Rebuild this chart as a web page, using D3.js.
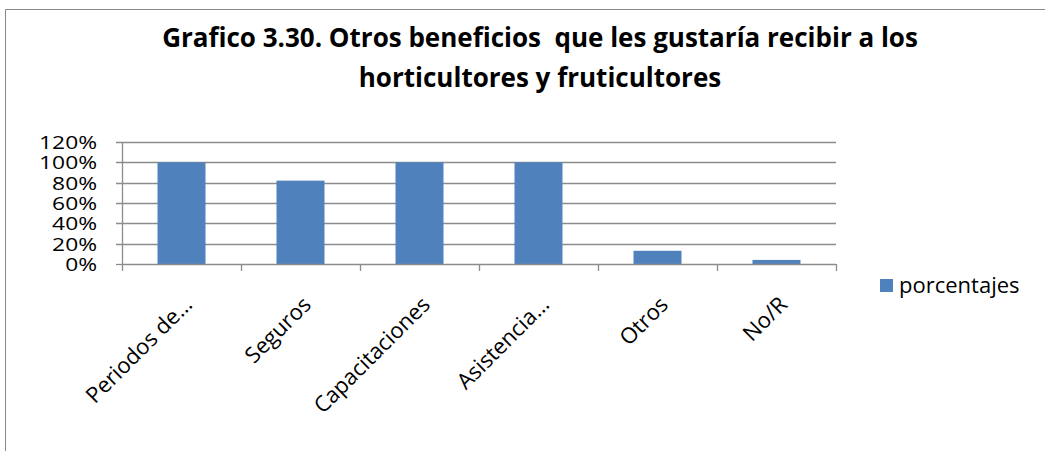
<!DOCTYPE html>
<meta charset="utf-8">
<head>
  <script src="https://cdn.jsdelivr.net/npm/d3@7"></script>
  <style>
    body { margin: 0; background: #fff; }
    text { font-family: "Open Sans", "DejaVu Sans", sans-serif; fill: #000; }
  </style>
</head>
<body>
<script type="text/javascript">

var categorias = ["Periodos de\u2026", "Seguros", "Capacitaciones", "Asistencia\u2026", "Otros", "No/R"];
var porcentajes = [1.00, 0.82, 1.00, 1.00, 0.13, 0.04];
var ticks = [0, 0.2, 0.4, 0.6, 0.8, 1.0, 1.2];
var serie = "porcentajes";
var titulo = ["Grafico 3.30. Otros beneficios  que les gustar\u00eda recibir a los",
              "horticultores y fruticultores"];

var w = 1045;
var h = 451;
var margIzq = 122, margDer = 836, margSup = 142, margInf = 264;

var svg = d3.select("body").append("svg")
    .attr("width", w)
    .attr("height", h);

// marco del grafico
svg.append("path")
    .attr("d", "M5.5," + h + " V9.5 H" + w)
    .attr("fill", "none")
    .attr("stroke", "#888")
    .attr("stroke-width", 1);

svg.selectAll(".titulo")
    .data(titulo)
    .enter()
    .append("text")
    .attr("class", "titulo")
    .attr("x", 540)
    .attr("y", function(d, i) { return 47 + i * 40; })
    .attr("text-anchor", "middle")
    .style("font-size", "26px")
    .style("font-weight", "bold")
    .style("white-space", "pre")
    .text(function(d) { return d; });

var xb = d3.scaleBand().domain(categorias).range([margIzq, margDer]);

var y = d3.scaleLinear()
    .domain([0, 1.2])
    .range([margInf, margSup]);

// lineas de la grilla
svg.selectAll(".grid")
    .data(ticks.slice(1))
    .enter()
    .append("line")
    .attr("x1", margIzq - 6)
    .attr("x2", margDer)
    .attr("y1", function(d) { return Math.round(y(d)) + 0.5; })
    .attr("y2", function(d) { return Math.round(y(d)) + 0.5; })
    .attr("stroke", "#8c8c8c")
    .attr("stroke-width", 1.3);

svg.selectAll(".bar")
    .data(porcentajes)
    .enter()
    .append("rect")
    .attr("x", function(d, i) { return xb(categorias[i]) + xb.bandwidth() / 2 - 24; })
    .attr("width", 48)
    .attr("y", function(d) { return y(d); })
    .attr("height", function(d) { return y(0) - y(d); })
    .attr("fill", "#4f81bd");

// eje y
var ejeY = svg.append("g");
ejeY.append("line")
    .attr("x1", margIzq + 0.5).attr("x2", margIzq + 0.5)
    .attr("y1", margSup).attr("y2", margInf)
    .attr("stroke", "#8c8c8c").attr("stroke-width", 1.3);
ejeY.append("line")
    .attr("x1", margIzq - 6).attr("x2", margIzq)
    .attr("y1", Math.round(y(0)) + 0.5).attr("y2", Math.round(y(0)) + 0.5)
    .attr("stroke", "#8c8c8c").attr("stroke-width", 1.3);

// etiquetas del eje y, algo estiradas como en el original
svg.selectAll(".ylab")
    .data(ticks)
    .enter()
    .append("text")
    .attr("text-anchor", "end")
    .attr("transform", function(d) { return "translate(97," + (y(d) + 7) + ") scale(1.2,1)"; })
    .style("font-size", "19px")
    .text(function(d) { return d3.format(".0%")(d); });

// eje x
var ejeX = svg.append("g");
ejeX.append("line")
    .attr("x1", margIzq).attr("x2", margDer)
    .attr("y1", Math.round(y(0)) + 0.5).attr("y2", Math.round(y(0)) + 0.5)
    .attr("stroke", "#8c8c8c").attr("stroke-width", 1.3);
ejeX.selectAll(".tick")
    .data(d3.range(categorias.length + 1))
    .enter()
    .append("line")
    .attr("x1", function(i) { return margIzq + i * xb.step() + 0.5; })
    .attr("x2", function(i) { return margIzq + i * xb.step() + 0.5; })
    .attr("y1", margInf)
    .attr("y2", margInf + 7)
    .attr("stroke", "#8c8c8c").attr("stroke-width", 1.3);

svg.selectAll(".xlab")
    .data(categorias)
    .enter()
    .append("text")
    .attr("text-anchor", "end")
    .attr("transform", function(d) {
      return "translate(" + (xb(d) + xb.bandwidth() / 2 + 12) + "," + (margInf + 42) + ") rotate(-45)";
    })
    .style("font-size", "22px")
    .text(function(d) { return d; });

// leyenda
svg.append("rect")
    .attr("x", 880).attr("y", 279)
    .attr("width", 13).attr("height", 13)
    .attr("fill", "#4f81bd");
svg.append("text")
    .attr("x", 899).attr("y", 293)
    .style("font-size", "22px")
    .text(serie);

</script>
</body>
